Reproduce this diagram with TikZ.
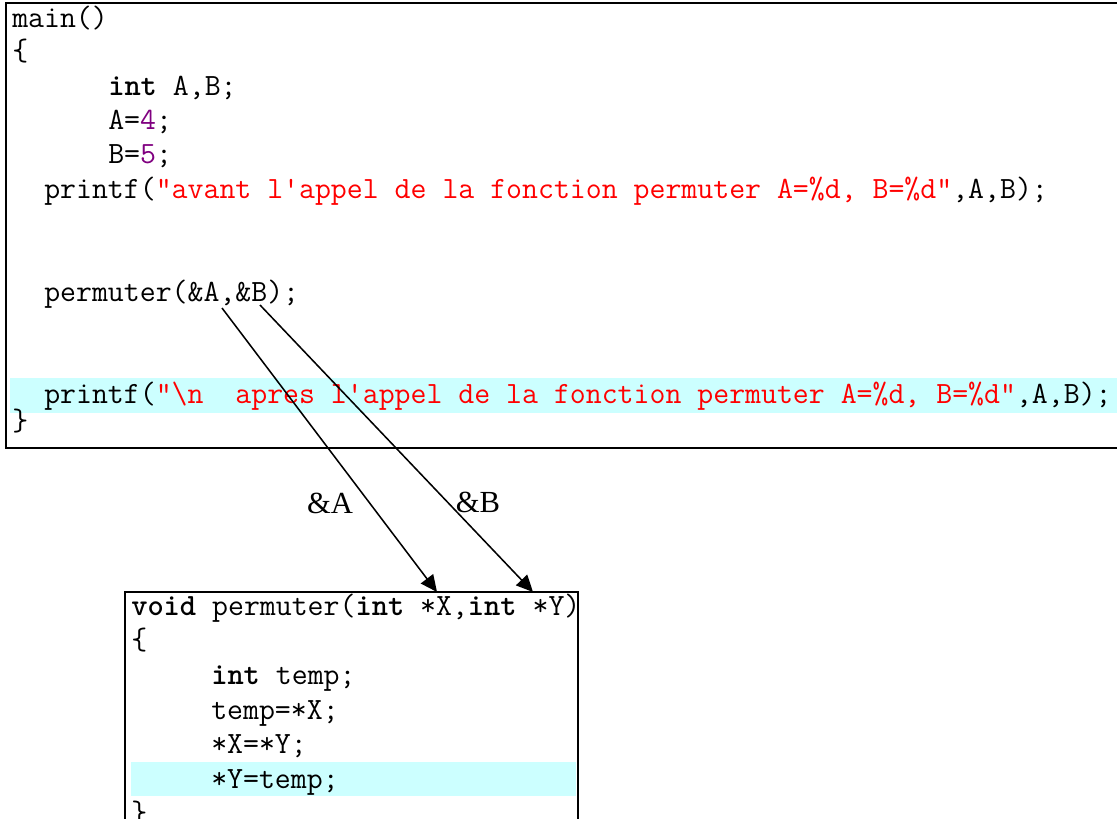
\documentclass[tikz,border=0pt]{standalone}
\usepackage{fontspec}
\setmainfont{Liberation Serif}
\usetikzlibrary{arrows.meta}
\definecolor{strred}{RGB}{255,0,0}
\definecolor{numpurple}{RGB}{128,0,128}
\definecolor{hilite}{RGB}{204,255,255}
\newcommand{\kw}[1]{\textbf{#1}}
\newcommand{\cstr}[1]{\textcolor{strred}{#1}}
\newcommand{\cnum}[1]{\textcolor{numpurple}{#1}}
\begin{document}
\begin{tikzpicture}[
  x=0.75pt, y=-0.75pt,
  code/.style={anchor=base west, inner sep=0pt, text=black,
               font=\ttfamily\fontsize{23.2}{27}\selectfont},
  frame/.style={line width=1.5pt, black},
  ptr/.style={-{Triangle[length=12.5pt,width=11.5pt]}, line width=1.15pt, black},
  lbl/.style={inner sep=0pt, font=\fontsize{23}{27}\selectfont}
]
\useasboundingbox (0,0) rectangle (1117,818);
\clip (0,0) rectangle (1117,818);

% highlighted current lines
\fill[hilite] (10,378) rectangle (1117,413);
\fill[hilite] (131,762) rectangle (576,796);

% caller window
\draw[frame] (1130,3) -- (6,3) -- (6,448) -- (1130,448);
\node[code] (m1) at (12,27)  {main()};
\node[code] (m2) at (12,60)  {\{};
\node[code] (m3) at (108,95) {\kw{int} A,B;};
\node[code] (m4) at (108,129) {A=\cnum{4};};
\node[code] (m5) at (108,163) {B=\cnum{5};};
\node[code] (m6) at (44,198) {printf(\cstr{"avant l'appel de la fonction permuter A=\%d, B=\%d"},A,B);};
\node[code] (m7) at (44,301) {permuter(\&A,\&B);};
\node[code] (m8) at (44,403) {printf(\cstr{"\textbackslash n~~apres l'appel de la fonction permuter A=\%d, B=\%d"},A,B);};
\node[code] (m9) at (12,430) {\}};

% callee window
\draw[frame] (125,830) -- (125,592) -- (578,592) -- (578,830);
\node[code] (p1) at (131,615) {\kw{void} permuter(\kw{int} *X,\kw{int} *Y)};
\node[code] (p2) at (131,649) {\{};
\node[code] (p3) at (211,684) {\kw{int} temp;};
\node[code] (p4) at (211,719) {temp=*X;};
\node[code] (p5) at (211,753) {*X=*Y;};
\node[code] (p6) at (211,788) {*Y=temp;};
\node[code] (p7) at (131,822) {\}};

% addresses passed to the parameters
\coordinate (argA) at (222,308);
\coordinate (argB) at (260,305);
\coordinate (parX) at (437,592);
\coordinate (parY) at (533,592);
\draw[ptr] (argA) -- (parX);
\draw[ptr] (argB) -- (parY);
\node[lbl] (labA) at (330,503) {\&A};
\node[lbl] (labB) at (478,502) {\&B};
\end{tikzpicture}
\end{document}
